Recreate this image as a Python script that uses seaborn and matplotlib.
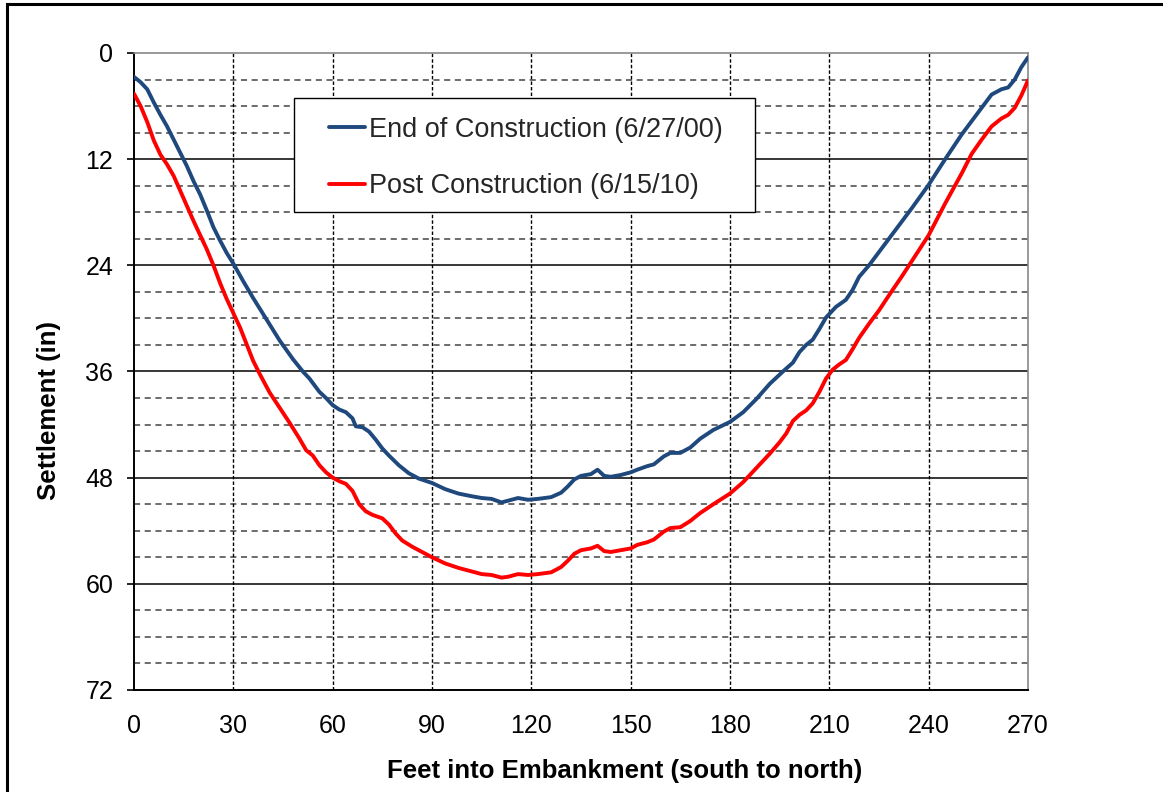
import matplotlib
matplotlib.use("Agg")
import matplotlib.pyplot as plt
import seaborn as sns
import pandas as pd
from matplotlib.patches import Rectangle
from matplotlib.ticker import MultipleLocator

sns.set_theme(style="white")
plt.rcParams["font.family"] = ["Liberation Sans", "DejaVu Sans"]

# Settlement profile at end of construction (6/27/00)
end_x = [0, 2, 4, 6, 8, 10, 12, 14, 16, 18, 20, 22, 24, 26, 28, 30, 33, 36, 40, 44,
         48, 51, 53, 56, 58, 60, 62, 64, 66, 67, 69, 71, 73, 75, 77, 80, 83, 86, 90, 94,
         98, 102, 105, 108, 111, 113, 116, 119, 122, 126, 129, 131, 133, 135, 138, 140,
         142, 144, 147, 150, 152, 155, 157, 160, 162, 165, 168, 171, 175, 180, 184, 188,
         192, 196, 199, 201, 203, 205, 207, 209, 212, 215, 217, 219, 222, 226, 230, 235,
         240, 245, 250, 255, 259, 262, 264, 266, 268, 270]
end_y = [2.7, 3.3, 4.1, 5.6, 7.0, 8.3, 9.8, 11.3, 12.8, 14.5, 16.0, 17.8, 19.7, 21.2,
         22.6, 23.8, 25.8, 27.7, 30.1, 32.5, 34.6, 36.0, 36.8, 38.3, 39.0, 39.8, 40.3,
         40.6, 41.3, 42.2, 42.3, 42.8, 43.7, 44.7, 45.5, 46.6, 47.5, 48.1, 48.6, 49.3,
         49.8, 50.1, 50.3, 50.4, 50.8, 50.6, 50.3, 50.5, 50.4, 50.2, 49.7, 49.0, 48.2,
         47.8, 47.6, 47.1, 47.8, 47.9, 47.7, 47.4, 47.1, 46.7, 46.5, 45.6, 45.2, 45.2,
         44.6, 43.6, 42.6, 41.7, 40.6, 39.1, 37.4, 36.0, 35.0, 33.8, 33.0, 32.4, 31.2,
         29.9, 28.7, 27.9, 26.8, 25.3, 24.0, 22.0, 20.0, 17.5, 14.9, 12.0, 9.2, 6.7,
         4.7, 4.1, 3.9, 3.0, 1.6, 0.5]

# Settlement profile post construction (6/15/10)
post_x = [0, 2, 4, 6, 8, 10, 12, 14, 16, 18, 20, 22, 24, 26, 28, 30, 32, 34, 36, 38,
          41, 44, 47, 50, 52, 54, 56, 58, 60, 62, 64, 66, 68, 70, 72, 75, 77, 79, 81, 84,
          87, 90, 94, 98, 102, 105, 108, 111, 113, 116, 119, 122, 126, 129, 131, 133,
          135, 138, 140, 142, 144, 147, 150, 152, 155, 157, 160, 162, 165, 168, 171, 175,
          180, 184, 188, 192, 195, 197, 199, 201, 203, 205, 207, 209, 211, 213, 215, 217,
          219, 222, 225, 228, 232, 236, 240, 245, 250, 253, 256, 259, 262, 264, 266, 268,
          270]
post_y = [4.6, 6.0, 7.8, 9.9, 11.5, 12.6, 13.9, 15.6, 17.3, 19.0, 20.6, 22.2, 24.0,
          26.0, 27.8, 29.4, 31.0, 32.9, 34.8, 36.3, 38.4, 40.1, 41.8, 43.6, 44.9, 45.5,
          46.6, 47.4, 48.0, 48.4, 48.7, 49.5, 51.0, 51.8, 52.2, 52.6, 53.3, 54.3, 55.1,
          55.8, 56.4, 57.0, 57.7, 58.2, 58.6, 58.9, 59.0, 59.3, 59.2, 58.9, 59.0, 58.9,
          58.7, 58.1, 57.4, 56.6, 56.2, 56.0, 55.7, 56.3, 56.4, 56.2, 56.0, 55.6, 55.3,
          55.0, 54.1, 53.7, 53.6, 52.9, 52.0, 51.0, 49.8, 48.5, 46.9, 45.3, 44.0, 43.0,
          41.6, 40.9, 40.4, 39.6, 38.3, 36.8, 35.8, 35.2, 34.7, 33.5, 32.2, 30.6, 29.1,
          27.4, 25.2, 22.9, 20.6, 17.0, 13.6, 11.4, 9.8, 8.3, 7.4, 7.0, 6.2, 4.8, 3.1]

labels = ["End of Construction (6/27/00)", "Post Construction (6/15/10)"]
colors = ["#1F497D", "#FF0000"]

df = pd.concat([
    pd.DataFrame({"feet": end_x, "settlement": end_y, "survey": labels[0]}),
    pd.DataFrame({"feet": post_x, "settlement": post_y, "survey": labels[1]}),
])

fig = plt.figure(figsize=(11.63, 7.92), dpi=100)
ax = fig.add_axes([0.1152, 0.1288, 0.7687, 0.8043])

# grid: dashed rows every 3 in, solid rows every 12 in, dashed columns every 30 ft
ax.set_xlim(0, 270)
ax.set_ylim(72, 0)
ax.xaxis.set_major_locator(MultipleLocator(30))
ax.yaxis.set_major_locator(MultipleLocator(12))
ax.grid(False)
for yv in range(3, 72, 3):
    if yv % 12 == 0:
        ax.axhline(yv, color="black", lw=1.1, zorder=1)
    else:
        ax.axhline(yv, color="#444444", lw=1.1, ls=(0, (4, 3)), zorder=1)
for xv in range(30, 270, 30):
    ax.axvline(xv, color="black", lw=1.0, ls=(0, (2.5, 1.5)), zorder=1)

sns.lineplot(data=df, x="feet", y="settlement", hue="survey", palette=colors,
             hue_order=labels, linewidth=2.8, ax=ax, zorder=3, sort=False,
             estimator=None, legend=False)

for side in ["top", "right"]:
    ax.spines[side].set_color("#888888")
    ax.spines[side].set_linewidth(1.2)
for side in ["left", "bottom"]:
    ax.spines[side].set_color("black")
    ax.spines[side].set_linewidth(1.4)

ax.tick_params(axis="y", which="major", direction="out", length=5, width=1.2,
               color="black", left=True, labelsize=18, pad=10, labelcolor="black")
ax.tick_params(axis="x", which="major", length=0, labelsize=18, pad=17,
               labelcolor="black")

ax.set_xlabel("Feet into Embankment (south to north)", fontsize=18.5,
              fontweight="bold", color="black")
ax.set_ylabel("Settlement (in)", fontsize=18.5, fontweight="bold", color="black")
ax.xaxis.set_label_coords(0.549, -0.108)
ax.yaxis.set_label_coords(-0.082, 0.438)

# legend box with its entries
ax.add_patch(Rectangle((0.179, 0.750), 0.516, 0.179, transform=ax.transAxes,
                       facecolor="white", edgecolor="black", linewidth=1.0,
                       zorder=4))
handles = [plt.Line2D([], [], color=c, linewidth=2.8) for c in colors]
leg = ax.legend(handles, labels, loc="center left", bbox_to_anchor=(0.218, 0.835),
                fontsize=19.5, frameon=False, handlelength=1.35, handletextpad=0.12,
                labelspacing=1.12, borderpad=0, borderaxespad=0)
leg.set_zorder(5)

# outer frame around the chart
fig.add_artist(Rectangle((7 / 1163, -0.05), 1.1, 1 - 4 / 792 + 0.05,
                         transform=fig.transFigure, fill=False, edgecolor="black",
                         linewidth=2.2))

fig.savefig("out.png", dpi=100)
